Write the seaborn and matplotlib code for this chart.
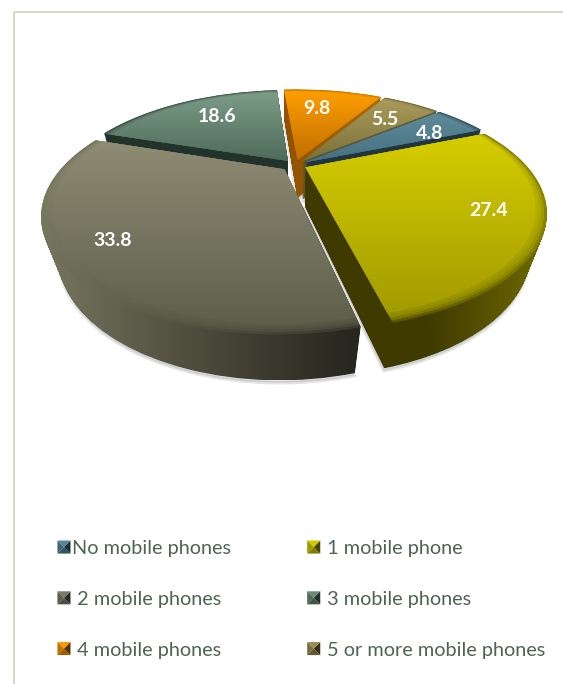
import numpy as np
import seaborn as sns
import matplotlib
matplotlib.use('Agg')
import matplotlib.pyplot as plt
from matplotlib.legend_handler import HandlerBase
from matplotlib.patches import Patch, Polygon, Rectangle, Wedge
from matplotlib.path import Path
from matplotlib.transforms import Transform

# Data
categories = ['No mobile phones', '1 mobile phone', '2 mobile phones',
              '3 mobile phones', '4 mobile phones', '5 or more mobile phones']
legend_labels = ['No mobile phones', ' 1 mobile phone', ' 2 mobile phones',
                 ' 3 mobile phones', ' 4 mobile phones', ' 5 or more mobile phones']
shares = [4.8, 27.4, 33.8, 18.6, 9.8, 5.5]

# Colours: legend base, top surface (far, near), side stops (left to right)
base_colors = ['#4f7f90', '#c8be00', '#75745e', '#64846f', '#f09000', '#94874e']
top_colors = [('#5f8b9b', '#44707f'), ('#d6cd00', '#9f9900'), ('#8e8c73', '#5c5c49'),
              ('#7e9e88', '#4e6b59'), ('#ff9f00', '#c06e00'), ('#aa9c5c', '#7b7039')]
side_colors = [('#1f3540', '#1f3540'), ('#3e3a00', '#3e3a00', '#706a00'),
               ('#77765f', '#5a5948', '#3e3d30', '#26261e'), ('#22332b', '#22332b'),
               ('#8f5200', '#b06a00'), ('#5f5530', '#5f5530')]
draw_order = [3, 4, 5, 0, 2, 1]
explode = [0.05, 0.05, 0.06, 0.05, 0.05, 0.05]
label_scale = [0.90, 1.055, 1.08, 0.90, 0.87, 0.90]
label_nudge = [(0.065, -0.015), (0, 0), (0, 0), (0.015, 0.03), (-0.032, 0.04), (0.02, 0)]

sns.set_theme(style='white')
plt.rcParams['font.family'] = ['Lato', 'DejaVu Sans']

W, H = 563, 684
fig = plt.figure(figsize=(W / 100, H / 100), dpi=100, facecolor='white')
ax = fig.add_axes([0, 0, 1, 1])


# Perspective from the pie plane to picture pixels, z is the depth below the top
class Persp(Transform):
    input_dims = 2
    output_dims = 2
    is_separable = False
    has_inverse = False

    def __init__(self, z=0.0):
        super().__init__()
        self.z = z

    def transform_non_affine(self, values):
        v = np.asarray(values, dtype=float)
        w = 1 + 0.39 * v[:, 1] + 0.06 * self.z
        return np.column_stack([295 + 232 * v[:, 0] / w,
                                165 - (105 * v[:, 1] - 41 * self.z) / w])


def gradient(stops, vertical):
    rgb = np.array([matplotlib.colors.to_rgb(c) for c in stops])
    t = np.linspace(0, 1, 128)
    g = np.column_stack([np.interp(t, np.linspace(0, 1, len(stops)), rgb[:, i]) for i in range(3)])
    return g[:, None, :] if vertical else g[None, :, :]


wedges, _, pct_texts = ax.pie(shares, explode=explode, radius=0.95, startangle=39.5,
                              counterclock=False, colors=base_colors,
                              autopct=lambda p: f'{p * sum(shares) / 100:.1f}',
                              pctdistance=0.75,
                              textprops=dict(color='white', fontweight='bold', fontsize=14))

top = Persp(0.0)
for rank, i in enumerate(draw_order):
    wedge = wedges[i]
    base_z = 10 + rank * 10
    wedge.set_transform(top + ax.transData)
    wedge.set_linewidth(0)
    wedge.set_zorder(base_z + 0.5)

    # soft shadow just below the side
    shadow = Persp(1.06).transform_path(wedge.get_path())
    ax.add_patch(Polygon(shadow.to_polygons(closed_only=False)[0], closed=True, fc='#000000',
                         alpha=0.10, lw=2.5, ec='#000000', zorder=base_z))

    # side: sweep the wedge down through the depth, merged into one clip shape
    layers = [Persp(z).transform_path(wedge.get_path()) for z in np.linspace(0, 1, 50)]
    side_path = Path.make_compound_path(*layers)
    x0, y0, x1, y1 = side_path.get_extents().extents
    im = ax.imshow(gradient(side_colors[i], False), extent=(x0, x1, y1, y0), aspect='auto',
                   interpolation='bilinear', zorder=base_z + 1)
    im.set_clip_path(side_path, ax.transData)

    # top: stacked translucent fills so that the rim fades into the side
    top_path = top.transform_path(wedge.get_path())
    x0, y0, x1, y1 = top_path.get_extents().extents
    for k, rf in enumerate([1.0, 0.99, 0.98, 0.97, 0.96]):
        inner = Wedge(wedge.center, wedge.r * rf, wedge.theta1, wedge.theta2).get_path()
        im = ax.imshow(gradient(top_colors[i], True), extent=(x0, x1, y1, y0), aspect='auto',
                       interpolation='bilinear', zorder=base_z + 4 + k * 0.1,
                       alpha=0.45 if rf < 1.0 and rf > 0.96 else (0.35 if rf == 1.0 else 1.0))
        im.set_clip_path(top.transform_path(inner), ax.transData)

for i, t in enumerate(pct_texts):
    px, py = t.get_position()
    t.set_position((px * label_scale[i] + label_nudge[i][0], py * label_scale[i] + label_nudge[i][1]))
    t.set_transform(top + ax.transData)
    t.set_zorder(200)

ax.set_aspect('auto')
ax.set_xlim(0, W)
ax.set_ylim(H, 0)
ax.set_xticks([])
ax.set_yticks([])
ax.set_frame_on(False)

# Thin chart border
ax.add_patch(Rectangle((14, 12), 560, 700, fill=False, ec='#d9d9c3', lw=1.44, zorder=1))


# Legend key drawn as a small bevelled pyramid
class BevelKey(HandlerBase):
    def create_artists(self, legend, orig, xd, yd, width, height, fontsize, trans):
        rgb = np.array(matplotlib.colors.to_rgb(orig.get_facecolor()))
        s = 9.4
        x, y = -xd + (width - s) / 2, -yd + (height - s) / 2
        c = (x + s / 2, y + s / 2)
        corners = [(x, y), (x + s, y), (x + s, y + s), (x, y + s)]
        shade = [0.65, 0.35, 1.05, 0.8]
        return [Polygon([corners[k], corners[(k + 1) % 4], c], closed=True, lw=0,
                        fc=np.clip(rgb * shade[k], 0, 1), transform=trans) for k in range(4)]


handles = [Patch(facecolor=c, label=n) for c, n in zip(base_colors, legend_labels)]
handles[0].set_label(categories[0])
order = [0, 2, 4, 1, 3, 5]
leg = ax.legend([handles[k] for k in order], [handles[k].get_label() for k in order], ncols=2,
                loc='upper left', bbox_to_anchor=(57, 540), bbox_transform=ax.transData,
                frameon=False, fontsize=14.3, labelcolor='#4e6353', handler_map={Patch: BevelKey()},
                handlelength=0.7, handletextpad=0.07, columnspacing=3.8, labelspacing=1.7,
                borderpad=0, borderaxespad=0)
leg.set_zorder(300)

fig.savefig('out.png', dpi=100, facecolor='white')
